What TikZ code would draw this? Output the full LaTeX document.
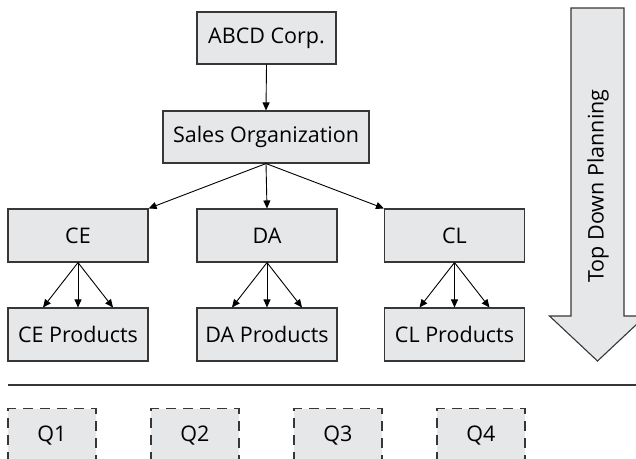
\documentclass[tikz,border=0pt]{standalone}
\usepackage{fontspec}
\setmainfont{Open Sans}
\usetikzlibrary{arrows.meta}
\definecolor{boxfill}{RGB}{230,231,232}
\definecolor{boxline}{RGB}{55,55,55}
\begin{document}
\begin{tikzpicture}[x=1pt,y=-1pt,
        unit/.style={draw=boxline,fill=boxfill,line width=1.1pt,inner sep=0pt,
            minimum height=53pt,font=\fontsize{21.5}{25}\selectfont},
        quarter/.style={unit,dash pattern=on 10pt off 7pt,minimum width=88pt,minimum height=70pt,
            text height=14pt,text depth=18pt,anchor=north},
        link/.style={line width=0.9pt,-{Triangle[length=8pt,width=7pt]}}]
    \useasboundingbox (0,0) rectangle (636,458);
    \clip (0,0) rectangle (636,458);
    % hierarchy
    \node[unit,minimum width=139pt,minimum height=52pt] (corp) at (266.5,38) {ABCD Corp.};
    \node[unit,minimum width=206pt,minimum height=52pt] (sales) at (266,137) {Sales Organization};
    \node[unit,minimum width=140pt] (ce) at (78,235.5) {CE};
    \node[unit,minimum width=140pt] (da) at (267,235.5) {DA};
    \node[unit,minimum width=140pt] (cl) at (454.5,235.5) {CL};
    \node[unit,minimum width=140pt] (cep) at (78,334.5) {CE Products};
    \node[unit,minimum width=140pt] (dap) at (267,334.5) {DA Products};
    \node[unit,minimum width=140pt] (clp) at (454.5,334.5) {CL Products};
    \draw[link] (corp.south) -- (sales.north);
    \draw[link] (sales.south) -- (ce.north east);
    \draw[link] (sales.south) -- (da.north);
    \draw[link] (sales.south) -- (cl.north west);
    \foreach \top/\bot in {ce/cep,da/dap,cl/clp}{
        \draw[link] (\top.south) -- ([xshift=-35pt]\bot.north);
        \draw[link] (\top.south) -- (\bot.north);
        \draw[link] (\top.south) -- ([xshift=35pt]\bot.north);
    }
    % top down arrow
    \draw[draw=boxline,fill=boxfill,line width=1.1pt] (571,8) -- (624,8) -- (624,316)
        -- (645.5,316) -- (597.5,361) -- (549.5,316) -- (571,316) -- cycle;
    \node[rotate=90,font=\fontsize{21.5}{25}\selectfont] (plan) at (598,186) {Top Down Planning};
    % quarters
    \draw[draw=boxline,line width=1.2pt] (8,385) -- (636,385);
    \foreach \q/\x in {1/52,2/195,3/338,4/481}
        \node[quarter] (q\q) at (\x,408) {Q\q};
\end{tikzpicture}
\end{document}
